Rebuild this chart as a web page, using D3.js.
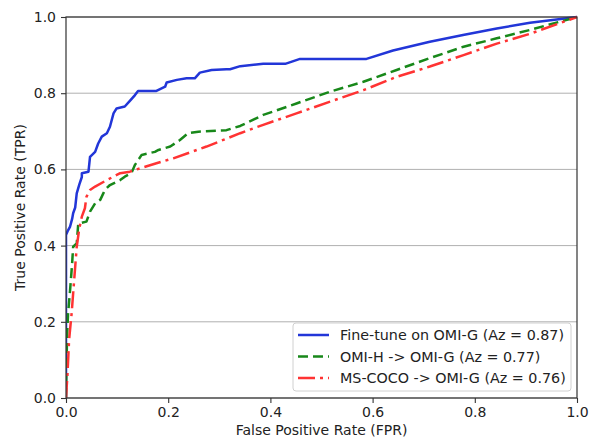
<!DOCTYPE html>
<html><head><meta charset="utf-8">
<script src="https://cdn.jsdelivr.net/npm/d3@7"></script>
<style>body{margin:0;background:#fff}text{font-family:"DejaVu Sans",sans-serif}</style>
</head><body><svg id="c" width="590" height="439"></svg>
<script>
const xTicks = [0, 0.2, 0.4, 0.6, 0.8, 1.0];
const yTicks = [0, 0.2, 0.4, 0.6, 0.8, 1.0];
const seriesNames = ["Fine-tune on OMI-G (Az = 0.87)", "OMI-H -> OMI-G (Az = 0.77)", "MS-COCO -> OMI-G (Az = 0.76)"];
const seriesColors = ["#2236d8", "#18881a", "#ff3333"];

// ROC points [FPR, TPR]
const fineTune = [[0,0],[0,0.428],[0.004,0.44],[0.008,0.45],[0.012,0.47],[0.014,0.485],[0.018,0.50],[0.021,0.537],[0.026,0.56],[0.031,0.58],[0.031,0.59],[0.044,0.594],[0.047,0.633],[0.057,0.646],[0.063,0.668],[0.07,0.686],[0.08,0.695],[0.086,0.712],[0.093,0.747],[0.099,0.76],[0.115,0.765],[0.125,0.78],[0.135,0.795],[0.141,0.806],[0.177,0.806],[0.194,0.817],[0.197,0.828],[0.217,0.835],[0.236,0.839],[0.252,0.839],[0.262,0.854],[0.285,0.861],[0.314,0.863],[0.321,0.863],[0.341,0.871],[0.386,0.877],[0.429,0.877],[0.458,0.89],[0.588,0.89],[0.64,0.912],[0.712,0.935],[0.777,0.953],[0.843,0.97],[0.908,0.985],[1,1]];
const omiH = [[0,0],[0.002,0.16],[0.004,0.22],[0.008,0.283],[0.012,0.353],[0.014,0.397],[0.021,0.406],[0.024,0.458],[0.04,0.463],[0.047,0.489],[0.057,0.511],[0.067,0.52],[0.073,0.537],[0.076,0.546],[0.086,0.559],[0.106,0.572],[0.115,0.581],[0.128,0.59],[0.135,0.612],[0.148,0.638],[0.174,0.646],[0.181,0.651],[0.204,0.66],[0.223,0.677],[0.239,0.695],[0.259,0.699],[0.314,0.703],[0.341,0.714],[0.386,0.743],[0.451,0.773],[0.517,0.804],[0.582,0.83],[0.647,0.861],[0.712,0.892],[0.778,0.922],[0.843,0.944],[0.908,0.966],[1,1]];
const msCoco = [[0,0],[0.003,0.065],[0.006,0.152],[0.011,0.222],[0.016,0.31],[0.021,0.397],[0.026,0.445],[0.031,0.476],[0.037,0.498],[0.04,0.528],[0.047,0.546],[0.057,0.555],[0.08,0.572],[0.093,0.581],[0.106,0.59],[0.125,0.594],[0.138,0.6],[0.177,0.616],[0.21,0.629],[0.275,0.66],[0.341,0.695],[0.386,0.717],[0.451,0.747],[0.517,0.778],[0.582,0.808],[0.647,0.843],[0.712,0.87],[0.778,0.9],[0.843,0.93],[0.908,0.956],[1,1]];
const seriesData = [fineTune, omiH, msCoco];
const seriesDash = [null, "10,5", "17,5,3,5"];

const W = 590, H = 439;
const m = {left: 66, right: 13, top: 17, bottom: 41};
const svg = d3.select("#c");
const x = d3.scaleLinear().domain([0, 1]).range([m.left, W - m.right]);
const y = d3.scaleLinear().domain([0, 1]).range([H - m.bottom, m.top]);

svg.append("defs").append("clipPath").attr("id", "clip")
  .append("rect").attr("x", m.left).attr("y", m.top - 2)
  .attr("width", x(1) - x(0) + 2).attr("height", y(0) - y(1) + 4);

// grid
svg.append("g").selectAll("line").data(yTicks).join("line")
  .attr("x1", x(0)).attr("x2", x(1)).attr("y1", d => y(d)).attr("y2", d => y(d))
  .attr("stroke", "#b0b0b0").attr("stroke-width", 1);

// lines
const line = d3.line().x(d => x(d[0])).y(d => y(d[1]));
const lg = svg.append("g").attr("clip-path", "url(#clip)");
seriesData.forEach((s, i) => {
  lg.append("path").datum(s).attr("d", line).attr("fill", "none")
    .attr("stroke", seriesColors[i]).attr("stroke-width", 2.5)
    .attr("stroke-linejoin", "round")
    .attr("stroke-dasharray", seriesDash[i]);
});

// frame
svg.append("rect").attr("x", x(0)).attr("y", y(1)).attr("width", x(1) - x(0)).attr("height", y(0) - y(1))
  .attr("fill", "none").attr("stroke", "#333").attr("stroke-width", 1.2);

const fmt = d3.format(".1f");
const xa = svg.append("g").attr("transform", `translate(0,${y(0)})`)
  .call(d3.axisBottom(x).tickValues(xTicks).tickFormat(fmt).tickSize(5).tickPadding(4));
const ya = svg.append("g").attr("transform", `translate(${x(0)},0)`)
  .call(d3.axisLeft(y).tickValues(yTicks).tickFormat(fmt).tickSize(5).tickPadding(5));
[xa, ya].forEach(a => {
  a.select(".domain").remove();
  a.selectAll("line").attr("stroke", "#333").attr("stroke-width", 1.1);
  a.selectAll("text").attr("font-size", 14).attr("fill", "#222").attr("font-family", "DejaVu Sans");
});

svg.append("text").attr("x", (x(0) + x(1)) / 2).attr("y", 435).attr("text-anchor", "middle")
  .attr("font-size", 14).attr("fill", "#222").text("False Positive Rate (FPR)");
svg.append("text").attr("transform", `translate(20,${(y(0) + y(1)) / 2}) rotate(-90)`)
  .attr("text-anchor", "middle").attr("dominant-baseline", "central")
  .attr("font-size", 14).attr("fill", "#222").text("True Positive Rate (TPR)");

// legend
const leg = svg.append("g");
leg.append("rect").attr("x", 293).attr("y", 323).attr("width", 278).attr("height", 68).attr("rx", 3)
  .attr("fill", "white").attr("fill-opacity", 0.85).attr("stroke", "#d0d0d0");
seriesNames.forEach((n, i) => {
  const cy = 335 + i * 21.5;
  leg.append("line").attr("x1", 298).attr("x2", 329).attr("y1", cy).attr("y2", cy)
    .attr("stroke", seriesColors[i]).attr("stroke-width", 2.5).attr("stroke-dasharray", seriesDash[i]);
  leg.append("text").attr("x", 340).attr("y", cy).attr("dominant-baseline", "central")
    .attr("font-size", 14.3).attr("fill", "#222").text(n);
});
</script></body></html>
